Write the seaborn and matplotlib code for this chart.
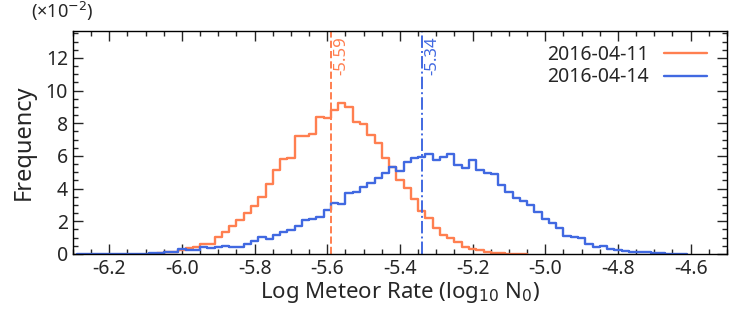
import matplotlib
matplotlib.use("Agg")
import matplotlib.pyplot as plt
from matplotlib.ticker import MultipleLocator
import numpy as np
import pandas as pd
import seaborn as sns

# bin width of both histograms
bin_width = 0.02

# 2016-04-11 (values in units of 1e-2)
start_a = -6.09
freq_a = [0.02, 0.05, 0.10, 0.15, 0.24, 0.39, 0.40, 0.60, 0.62, 1.02,
          1.37, 1.71, 2.08, 2.49, 2.94, 3.51, 4.31, 5.14, 5.80, 5.86,
          7.20, 7.25, 7.33, 8.41, 8.31, 8.79, 9.21, 9.00, 8.10, 7.95,
          7.29, 6.82, 5.86, 5.35, 4.53, 4.06, 3.36, 2.62, 2.20, 1.57,
          1.16, 1.00, 0.75, 0.45, 0.31, 0.22, 0.14, 0.08, 0.05, 0.03,
          0.02, 0.01]

# 2016-04-14
start_b = -6.29
freq_b = [0.01, 0.01, 0.01, 0.01, 0.01, 0.01, 0.01, 0.02, 0.02, 0.03,
          0.05, 0.05, 0.10, 0.12, 0.30, 0.22, 0.25, 0.40, 0.38, 0.42,
          0.48, 0.45, 0.45, 0.61, 0.80, 1.02, 0.92, 1.16, 1.37, 1.47,
          1.71, 2.08, 2.14, 2.29, 2.69, 3.10, 3.04, 3.76, 3.82, 4.12,
          4.33, 4.63, 4.94, 5.35, 5.08, 5.65, 5.85, 5.96, 6.14, 5.76,
          5.96, 6.12, 5.45, 5.25, 5.74, 5.14, 4.98, 4.90, 4.22, 3.78,
          3.41, 3.27, 3.00, 2.59, 2.14, 1.88, 1.61, 1.12, 1.02, 0.96,
          0.62, 0.45, 0.51, 0.31, 0.24, 0.20, 0.10, 0.14, 0.10, 0.07,
          0.07, 0.03, 0.03, 0.02]

labels = ["2016-04-11", "2016-04-14"]
medians = [-5.59, -5.34]
colors = ["#ff7f50", "#4169e1"]
styles = ["--", "-."]

def hist_frame(start, freq):
    centers = start + bin_width * (np.arange(len(freq)) + 0.5)
    rng = (start, start + bin_width * len(freq))
    return pd.DataFrame({"x": centers, "w": freq}), rng

sns.set_style("ticks")
plt.rcParams["font.family"] = ["Noto Sans", "DejaVu Sans"]
plt.rcParams["axes.unicode_minus"] = False

fig = plt.figure(figsize=(7.47, 3.09), dpi=100)
ax = fig.add_axes([0.0977, 0.178, 0.8755, 0.722])

for start, freq, lab, col in zip([start_a, start_b], [freq_a, freq_b], labels, colors):
    df, rng = hist_frame(start, freq)
    sns.histplot(data=df, x="x", weights="w", binwidth=bin_width, binrange=rng,
                 element="step", fill=False, color=col, linewidth=1.7,
                 label=lab, ax=ax)

for med, col, ls in zip(medians, colors, styles):
    ax.axvline(med, color=col, linestyle=ls, linewidth=1.4)
    ax.text(med + 0.007, 0.975, f"{med:.2f}", color=col, rotation=90,
            ha="left", va="top", fontsize=12, transform=ax.get_xaxis_transform())

ax.set_xlim(-6.3, -4.5)
ax.set_ylim(0, 13.65)
ax.xaxis.set_major_locator(MultipleLocator(0.2))
ax.xaxis.set_minor_locator(MultipleLocator(0.05))
ax.yaxis.set_major_locator(MultipleLocator(2))
ax.yaxis.set_minor_locator(MultipleLocator(0.5))
ax.xaxis.set_major_formatter(plt.FuncFormatter(lambda v, p: f"{v:.1f}"))
ax.tick_params(which="both", direction="in", top=True, right=True, labelsize=14, width=1)
ax.tick_params(which="major", length=7)
ax.tick_params(which="minor", length=3.5)
for s in ax.spines.values():
    s.set_linewidth(1)
    s.set_color("black")

ax.set_xlabel("Log Meteor Rate (log$_{10}$ N$_0$)", fontsize=16, labelpad=1)
ax.set_ylabel("Frequency", fontsize=17, labelpad=7)
ax.text(-0.017, 1.035, "(×10$^{-2}$)", transform=ax.transAxes, fontsize=13,
        ha="center", va="bottom")

ax.legend(loc="upper right", frameon=False, markerfirst=False, fontsize=14,
          handlelength=2.2, borderaxespad=0.3, labelspacing=0.15,
          bbox_to_anchor=(0.99, 1.0))

plt.savefig("out.png", dpi=100)
